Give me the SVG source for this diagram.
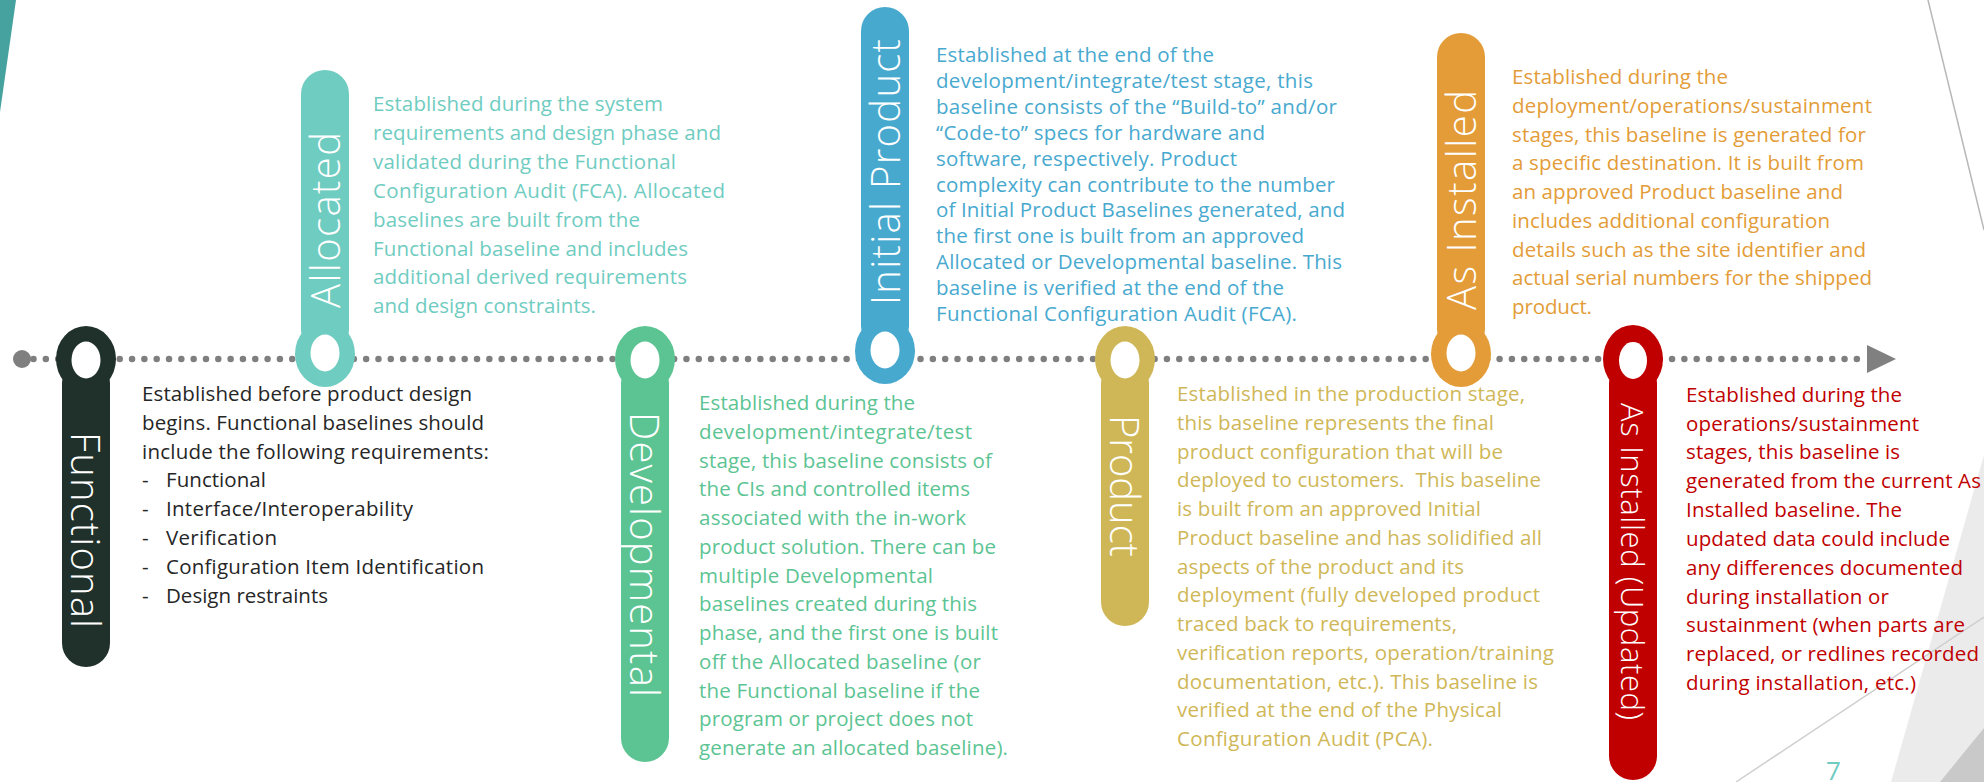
<svg xmlns="http://www.w3.org/2000/svg" width="1984" height="782" viewBox="0 0 1984 782">
<style>
.t{font-family:"Open Sans","Noto Sans","Liberation Sans",sans-serif;font-size:20.5px;}
.lbl{font-family:"Open Sans","Noto Sans","Liberation Sans",sans-serif;font-weight:300;font-size:40px;fill:#ffffff;text-anchor:middle;}
.hole{fill:#ffffff;}
.c1{fill:#262626}.c2{fill:#6fccc1}.c3{fill:#5cc493}.c4{fill:#48a9cf}.c5{fill:#cfb757}.c6{fill:#e39c37}.c7{fill:#c00000}
</style>
<rect width="1984" height="782" fill="#ffffff"/>
<g id="background">
<polygon points="0,0 16,0 0,112" fill="#45a29e"/>
<line x1="1928" y1="0" x2="1984" y2="230" stroke="#b8b8b8" stroke-width="1.5"/>
<polygon points="1984,455 1891,782 1984,782" fill="#ebebeb"/>
<polygon points="1984,728 1940,782 1984,782" fill="#c9c9c9"/>
<line x1="1736" y1="782" x2="1984" y2="617" stroke="#cfcfcf" stroke-width="1.5"/>
<text x="1826" y="780" style="font-family:'Open Sans',sans-serif;font-size:26px;fill:#6fccc1">7</text>
</g>
<g id="connectors">
<circle cx="22" cy="359" r="9" fill="#7f7f7f"/>
<line x1="33.5" y1="359" x2="1860" y2="359" stroke="#7f7f7f" stroke-width="6.5" stroke-linecap="round" stroke-dasharray="0 12.32"/>
<polygon points="1867,345 1896,359 1867,373" fill="#808080"/>
</g>

<g id="functional">
<rect x="62" y="359" width="48" height="308" rx="24" class="c1" fill="#20302a" style="fill:#20302a"/>
<ellipse cx="86" cy="359" rx="30" ry="33" style="fill:#20302a"/>
<ellipse cx="86" cy="360" rx="14.5" ry="18.5" class="hole"/>
<text class="lbl" transform="translate(86,530) rotate(90)" y="15" textLength="196">Functional</text>
<g class="t c1">
<text x="142" y="401" textLength="330">Established before product design</text>
<text x="142" y="429.8" textLength="342">begins. Functional baselines should</text>
<text x="142" y="458.6" textLength="347">include the following requirements:</text>
<text x="142" y="487.4">-</text><text x="166" y="487.4" textLength="100">Functional</text>
<text x="142" y="516.2">-</text><text x="166" y="516.2" textLength="247">Interface/Interoperability</text>
<text x="142" y="545">-</text><text x="166" y="545" textLength="111">Verification</text>
<text x="142" y="573.8">-</text><text x="166" y="573.8" textLength="318">Configuration Item Identification</text>
<text x="142" y="602.6">-</text><text x="166" y="602.6" textLength="162">Design restraints</text>
</g>
</g>

<g id="allocated">
<rect x="301" y="70" width="48" height="284" rx="24" class="c2"/>
<ellipse cx="325" cy="354" rx="30" ry="33" class="c2"/>
<ellipse cx="325" cy="353" rx="14.5" ry="18.5" class="hole"/>
<text class="lbl" transform="translate(325,220) rotate(-90)" y="15" textLength="176">Allocated</text>
<g class="t c2">
<text x="373" y="111" textLength="290">Established during the system</text>
<text x="373" y="139.9" textLength="348">requirements and design phase and</text>
<text x="373" y="168.8" textLength="303">validated during the Functional</text>
<text x="373" y="197.7" textLength="352">Configuration Audit (FCA). Allocated</text>
<text x="373" y="226.6" textLength="267">baselines are built from the</text>
<text x="373" y="255.5" textLength="315">Functional baseline and includes</text>
<text x="373" y="284.4" textLength="314">additional derived requirements</text>
<text x="373" y="313.3" textLength="223">and design constraints.</text>
</g>
</g>

<g id="developmental">
<rect x="621" y="359" width="48" height="403" rx="24" class="c3"/>
<ellipse cx="645" cy="359" rx="30" ry="33" class="c3"/>
<ellipse cx="645" cy="360" rx="14.5" ry="18.5" class="hole"/>
<text class="lbl" transform="translate(645,554.5) rotate(90)" y="15" textLength="285">Developmental</text>
<g class="t c3">
<text x="699" y="410" textLength="216">Established during the</text>
<text x="699" y="438.75" textLength="273">development/integrate/test</text>
<text x="699" y="467.5" textLength="293">stage, this baseline consists of</text>
<text x="699" y="496.25" textLength="271">the CIs and controlled items</text>
<text x="699" y="525" textLength="267">associated with the in-work</text>
<text x="699" y="553.75" textLength="297">product solution. There can be</text>
<text x="699" y="582.5" textLength="234">multiple Developmental</text>
<text x="699" y="611.25" textLength="278">baselines created during this</text>
<text x="699" y="640" textLength="299">phase, and the first one is built</text>
<text x="699" y="668.75" textLength="282">off the Allocated baseline (or</text>
<text x="699" y="697.5" textLength="281">the Functional baseline if the</text>
<text x="699" y="726.25" textLength="274">program or project does not</text>
<text x="699" y="755" textLength="309">generate an allocated baseline).</text>
</g>
</g>

<g id="initial-product">
<rect x="861" y="7" width="48" height="343" rx="24" class="c4"/>
<ellipse cx="885" cy="351" rx="30" ry="33" class="c4"/>
<ellipse cx="885" cy="350" rx="14.5" ry="18.5" class="hole"/>
<text class="lbl" transform="translate(885,172) rotate(-90)" y="15" textLength="266">Initial Product</text>
<g class="t c4">
<text x="936" y="62.3" textLength="278">Established at the end of the</text>
<text x="936" y="88.15" textLength="377">development/integrate/test stage, this</text>
<text x="936" y="114" textLength="401">baseline consists of the “Build-to” and/or</text>
<text x="936" y="139.85" textLength="329">“Code-to” specs for hardware and</text>
<text x="936" y="165.7" textLength="301">software, respectively. Product</text>
<text x="936" y="191.55" textLength="399">complexity can contribute to the number</text>
<text x="936" y="217.4" textLength="409">of Initial Product Baselines generated, and</text>
<text x="936" y="243.25" textLength="368">the first one is built from an approved</text>
<text x="936" y="269.1" textLength="406">Allocated or Developmental baseline. This</text>
<text x="936" y="294.95" textLength="348">baseline is verified at the end of the</text>
<text x="936" y="320.8" textLength="361">Functional Configuration Audit (FCA).</text>
</g>
</g>

<g id="product">
<rect x="1101" y="359" width="48" height="267" rx="24" class="c5"/>
<ellipse cx="1125" cy="359" rx="30" ry="33" class="c5"/>
<ellipse cx="1125" cy="360" rx="14.5" ry="18.5" class="hole"/>
<text class="lbl" transform="translate(1125,486) rotate(90)" y="15" textLength="142">Product</text>
<g class="t c5">
<text x="1177" y="401" textLength="348">Established in the production stage,</text>
<text x="1177" y="429.75" textLength="317">this baseline represents the final</text>
<text x="1177" y="458.5" textLength="326">product configuration that will be</text>
<text x="1177" y="487.25" textLength="364" style="white-space:pre">deployed to customers.  This baseline</text>
<text x="1177" y="516" textLength="304">is built from an approved Initial</text>
<text x="1177" y="544.75" textLength="365">Product baseline and has solidified all</text>
<text x="1177" y="573.5" textLength="287">aspects of the product and its</text>
<text x="1177" y="602.25" textLength="363">deployment (fully developed product</text>
<text x="1177" y="631" textLength="280">traced back to requirements,</text>
<text x="1177" y="659.75" textLength="377">verification reports, operation/training</text>
<text x="1177" y="688.5" textLength="361">documentation, etc.). This baseline is</text>
<text x="1177" y="717.25" textLength="325">verified at the end of the Physical</text>
<text x="1177" y="746" textLength="256">Configuration Audit (PCA).</text>
</g>
</g>

<g id="as-installed">
<rect x="1437" y="33" width="48" height="320" rx="24" class="c6"/>
<ellipse cx="1461" cy="354" rx="30" ry="33" class="c6"/>
<ellipse cx="1461" cy="353" rx="14.5" ry="18.5" class="hole"/>
<text class="lbl" transform="translate(1461,200) rotate(-90)" y="15" textLength="220">As Installed</text>
<g class="t c6">
<text x="1512" y="84" textLength="216">Established during the</text>
<text x="1512" y="112.75" textLength="360">deployment/operations/sustainment</text>
<text x="1512" y="141.5" textLength="354">stages, this baseline is generated for</text>
<text x="1512" y="170.25" textLength="352">a specific destination. It is built from</text>
<text x="1512" y="199" textLength="331">an approved Product baseline and</text>
<text x="1512" y="227.75" textLength="318">includes additional configuration</text>
<text x="1512" y="256.5" textLength="354">details such as the site identifier and</text>
<text x="1512" y="285.25" textLength="360">actual serial numbers for the shipped</text>
<text x="1512" y="314" textLength="80">product.</text>
</g>
</g>

<g id="as-installed-updated">
<rect x="1609" y="359" width="48" height="421" rx="24" class="c7"/>
<ellipse cx="1633" cy="359" rx="30" ry="34" class="c7"/>
<ellipse cx="1633" cy="360.5" rx="14" ry="18.5" class="hole"/>
<text class="lbl" transform="translate(1633,561.5) rotate(90)" y="12" textLength="317" style="font-size:31px">As Installed (Updated)</text>
<g class="t c7">
<text x="1686" y="401.7" textLength="216">Established during the</text>
<text x="1686" y="430.5" textLength="233">operations/sustainment</text>
<text x="1686" y="459.4" textLength="214">stages, this baseline is</text>
<text x="1686" y="488.2" textLength="295">generated from the current As</text>
<text x="1686" y="517" textLength="216">Installed baseline. The</text>
<text x="1686" y="545.9" textLength="264">updated data could include</text>
<text x="1686" y="574.7" textLength="277">any differences documented</text>
<text x="1686" y="603.5" textLength="203">during installation or</text>
<text x="1686" y="632.3" textLength="279">sustainment (when parts are</text>
<text x="1686" y="661.2" textLength="293">replaced, or redlines recorded</text>
<text x="1686" y="690" textLength="230">during installation, etc.)</text>
</g>
</g>
</svg>
